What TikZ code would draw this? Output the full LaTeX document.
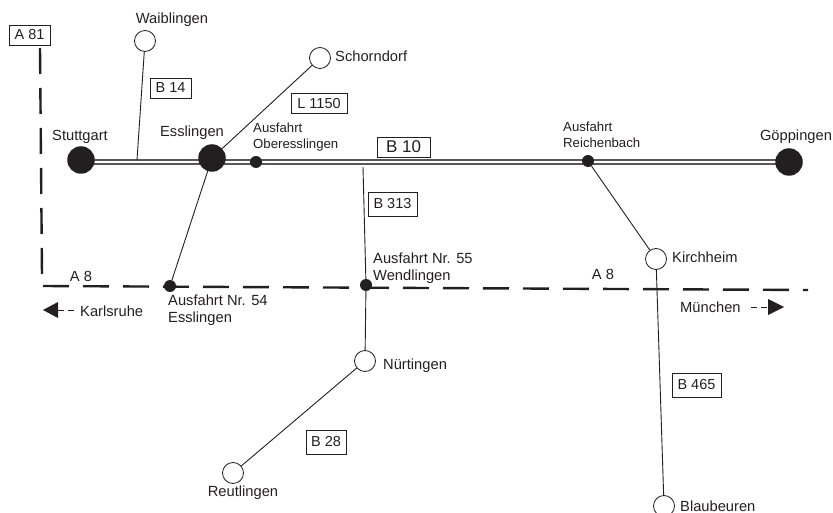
\documentclass[tikz,border=0pt]{standalone}
\usepackage{fontspec}
\setmainfont{Liberation Sans}
\usetikzlibrary{backgrounds}
\definecolor{ink}{HTML}{231F20}
\tikzset{
  x=1pt,y=-1pt,
  txt/.style={inner sep=0pt,text=ink,font=\fontsize{14.7}{17}\selectfont,align=left},
  small/.style={inner sep=0pt,text=ink,font=\fontsize{13.2}{16}\selectfont,align=left},
  tag/.style={draw=ink,line width=0.8pt,inner sep=0pt,text=ink,font=\fontsize{14.5}{17}\selectfont,anchor=center},
  city/.style={circle,fill=ink,draw=none,minimum size=27.5pt,inner sep=0pt},
  exit/.style={circle,fill=ink,draw=none,minimum size=12pt,inner sep=0pt},
  town/.style={circle,fill=white,draw=ink,line width=0.8pt,minimum size=21pt,inner sep=0pt},
  road/.style={draw=ink,line width=0.9pt},
  motorway/.style={draw=ink,line width=2.4pt,dash pattern=on 26pt off 14pt},
  thindash/.style={draw=ink,line width=0.7pt,dash pattern=on 6pt off 4pt},
}
\begin{document}
\begin{tikzpicture}
\useasboundingbox (0,0) rectangle (833,513);
% towns
\node[town] (waib) at (145,41) {};
\node[town] (schorn) at (320,58) {};
\node[town] (kirch) at (656,259) {};
\node[town] (nuert) at (365,361) {};
\node[town] (reut) at (233,473) {};
\node[town] (blau) at (664,506) {};
\node[city] (stutt) at (81,160) {};
\node[city] (essl) at (212,158) {};
\node[city] (goep) at (789,162) {};
\node[exit] (ober) at (256,162) {};
\node[exit] (reich) at (588,161) {};
\node[exit] (x54) at (170,286) {};
\node[exit] (x55) at (366,285) {};
\coordinate (roadw) at (81,162);
\coordinate (roade) at (789,162);
\coordinate (a81s) at (40,48);
\coordinate (a81e) at (42,275);
\coordinate (a8w) at (43,286);
\coordinate (a8e) at (808,290);
\coordinate (b14e) at (137,160);
\coordinate (b313s) at (363,167);
\coordinate (kw) at (58,310);
\coordinate (kwe) at (77,310);
\coordinate (me) at (768,307);
\coordinate (ms) at (751,307);
\begin{scope}[on background layer]
\draw[draw=ink!75,line width=5.4pt] (roadw) -- (roade);
\draw[draw=white,line width=2.2pt] (roadw) -- (roade);
\draw[motorway] (a81s) -- (a81e);
\draw[motorway] (a8w) -- (a8e);
\draw[road] (waib) -- (b14e);
\draw[road] (schorn) -- (essl);
\draw[road] (essl) -- (x54);
\draw[road] (b313s) -- (x55);
\draw[road] (x55) -- (nuert);
\draw[road] (nuert) -- (reut);
\draw[road] (reich) -- (kirch);
\draw[road] (kirch) -- (blau);
\end{scope}
% direction arrows
\fill[ink] (43,310) -- (kw |- 0,302) -- (kw |- 0,318) -- cycle;
\draw[thindash] (kw) -- (kwe);
\fill[ink] (784,307) -- (me |- 0,299) -- (me |- 0,315) -- cycle;
\draw[thindash] (ms) -- (me);
% labels
\node[txt,anchor=center] (l1) at (172,20) {Waiblingen};
\node[txt,anchor=west] (l2) at (335,56) {Schorndorf};
\node[txt,anchor=center] (l3) at (80,137) {Stuttgart};
\node[txt,anchor=center] (l4) at (192,133) {Esslingen};
\node[small,anchor=north west] (l5) at (253,123) {Ausfahrt\\Oberesslingen};
\node[small,anchor=north west] (l6) at (563,121.5) {Ausfahrt\\Reichenbach};
\node[txt,anchor=center] (l7) at (796,137) {Göppingen};
\node[txt,anchor=west] (l8) at (672,257) {Kirchheim};
\node[txt,anchor=north west] (l9) at (373,253) {Ausfahrt Nr. 55\\Wendlingen};
\node[txt,anchor=north west] (l10) at (168,294.5) {Ausfahrt Nr. 54\\Esslingen};
\node[txt,anchor=center] (l11) at (81,276) {A 8};
\node[txt,anchor=center] (l12) at (603,274) {A 8};
\node[txt,anchor=west] (l13) at (80,311) {Karlsruhe};
\node[txt,anchor=west] (l14) at (680,307) {München};
\node[txt,anchor=west] (l15) at (383,366) {Nürtingen};
\node[txt,anchor=center] (l16) at (243,493) {Reutlingen};
\node[txt,anchor=west] (l17) at (680,506) {Blaubeuren};
% road tags
\node[tag,minimum width=41pt,minimum height=20pt] (t1) at (29.5,35) {A 81};
\node[tag,minimum width=41pt,minimum height=20pt] (t2) at (170.5,88) {B 14};
\node[tag,minimum width=56pt,minimum height=20pt] (t3) at (319,103.5) {L 1150};
\node[tag,minimum width=53pt,minimum height=20pt,font=\fontsize{17}{20}\selectfont] (t4) at (403.5,147) {B 10};
\node[tag,minimum width=49pt,minimum height=24pt] (t5) at (392.5,204) {B 313};
\node[tag,minimum width=49pt,minimum height=24pt] (t6) at (696.5,385) {B 465};
\node[tag,minimum width=40pt,minimum height=24pt] (t7) at (326,442) {B 28};
\end{tikzpicture}
\end{document}
